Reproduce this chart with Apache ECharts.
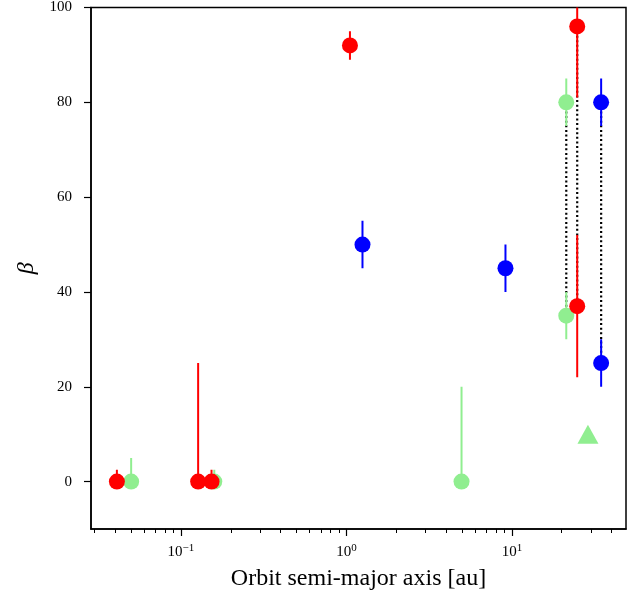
<!DOCTYPE html>
<html>
<head>
<meta charset="utf-8">
<script src="https://cdn.jsdelivr.net/npm/echarts@6/dist/echarts.min.js"></script>
<style>html,body{margin:0;padding:0;background:#fff;}#c{width:638px;height:596px;}</style>
</head>
<body>
<div id="c"></div>
<script>
// ---- data ----
const redX = [0.041, 0.127, 0.153, 1.05, 24.8, 24.8];
const redY = [0, 0, 0, 92, 96, 37];
const redErrLo = [0, 0, 0, 3, 15, 15];
const redErrHi = [2.5, 25, 2.5, 3, 15, 15];

const greenX = [0.050, 0.159, 4.96, 21.3, 21.3];
const greenY = [0, 0, 0, 80, 35];
const greenErrLo = [0, 0, 0, 5, 5];
const greenErrHi = [5, 2.5, 20, 5, 5];

const blueX = [1.25, 9.14, 34.6, 34.6];
const blueY = [50, 45, 80, 25];
const blueErrLo = [5, 5, 5, 5];
const blueErrHi = [5, 5, 5, 5];

const triX = [28.8];
const triY = [10];

// dotted connectors: [x, yTop, yBottom]
const linkGreen = [21.3, 80, 35];
const linkRed = [24.8, 96, 37];
const linkBlue = [34.6, 80, 25];

const xMajorTicks = [0.1, 1, 10];
const xMinorTicks = [0.03,0.04,0.05,0.06,0.07,0.08,0.09,0.2,0.3,0.4,0.5,0.6,0.7,0.8,0.9,2,3,4,5,6,7,8,9,20,30,40];
const yTicks = [0, 20, 40, 60, 80, 100];

const RED = '#ff0000', GREEN = '#90ee90', BLUE = '#0000ff';
const FONT = 'Liberation Serif';

function errData(xs, ys, lo, hi) {
  return xs.map((x, i) => [x, ys[i] - lo[i], ys[i] + hi[i]]);
}
function errSeries(xs, ys, lo, hi, color) {
  return {
    type: 'custom',
    clip: true,
    z: 2,
    data: errData(xs, ys, lo, hi),
    encode: { x: 0, y: [1, 2] },
    renderItem: function (params, api) {
      const a = api.coord([api.value(0), api.value(1)]);
      const b = api.coord([api.value(0), api.value(2)]);
      return {
        type: 'line',
        shape: { x1: a[0], y1: a[1], x2: b[0], y2: b[1] },
        style: { stroke: color, lineWidth: 2 }
      };
    },
    silent: true
  };
}
function pts(xs, ys, color, symbol, size) {
  return {
    type: 'scatter',
    z: 2,
    data: xs.map((x, i) => [x, ys[i]]),
    symbol: symbol || 'circle',
    symbolSize: size || 16,
    itemStyle: { color: color, opacity: 1 },
    silent: true
  };
}
function link(l) {
  return {
    type: 'line',
    z: 1,
    data: [[l[0], l[1]], [l[0], l[2]]],
    symbol: 'none',
    lineStyle: { color: '#000', width: 2.2, type: [2, 2.6] },
    silent: true
  };
}

const chart = echarts.init(document.getElementById('c'), null, { renderer: 'canvas' });
chart.setOption({
  animation: false,
  grid: { left: 91, right: 12, top: 7, bottom: 67, show: true, borderColor: '#000', borderWidth: 1.5, backgroundColor: 'transparent' },
  xAxis: [{
    type: 'log', logBase: 10, min: 0.0286, max: 48.9,
    position: 'bottom',
    axisLine: { show: true, onZero: false, lineStyle: { color: '#000', width: 1.5 } },
    axisTick: { show: true, customValues: xMajorTicks, length: 7, lineStyle: { color: '#000', width: 1.2 } },
    axisLabel: {
      customValues: xMajorTicks, margin: 14,
      formatter: function (v) {
        const e = Math.round(Math.log10(v));
        return '{b|10}{s|' + (e < 0 ? '\u2212' + (-e) : e) + '}';
      },
      rich: {
        b: { fontFamily: FONT, fontSize: 15, color: '#000' },
        s: { fontFamily: FONT, fontSize: 11, color: '#000', padding: [0, 0, 8, 0] }
      }
    },
    splitLine: { show: false },
    name: 'Orbit semi-major axis [au]', nameLocation: 'middle', nameGap: 38,
    nameTextStyle: { fontFamily: FONT, fontSize: 24, color: '#000' }
  }, {
    type: 'log', logBase: 10, min: 0.0286, max: 48.9,
    position: 'bottom', gridIndex: 0,
    axisLine: { show: false, onZero: false },
    axisTick: { show: true, customValues: xMinorTicks, length: 4, lineStyle: { color: '#000', width: 1 } },
    axisLabel: { show: false },
    splitLine: { show: false }
  }],
  yAxis: {
    type: 'value', min: -10, max: 100,
    axisLine: { show: true, onZero: false, lineStyle: { color: '#000', width: 1.5 } },
    axisTick: { show: true, customValues: yTicks, length: 7, lineStyle: { color: '#000', width: 1.2 } },
    axisLabel: { customValues: yTicks, fontFamily: FONT, fontSize: 15, color: '#000', margin: 19 },
    splitLine: { show: false },
    name: '\u03b2', nameLocation: 'middle', nameGap: 50, nameRotate: 90,
    nameTextStyle: { fontFamily: FONT, fontSize: 24, fontStyle: 'italic', color: '#000' }
  },
  series: [
    link(linkGreen), link(linkRed), link(linkBlue),
    errSeries(greenX, greenY, greenErrLo, greenErrHi, GREEN),
    pts(greenX, greenY, GREEN),
    pts(triX, triY, GREEN, 'triangle', [21, 19]),
    errSeries(redX, redY, redErrLo, redErrHi, RED),
    pts(redX, redY, RED),
    errSeries(blueX, blueY, blueErrLo, blueErrHi, BLUE),
    pts(blueX, blueY, BLUE)
  ]
});
</script>
</body>
</html>
